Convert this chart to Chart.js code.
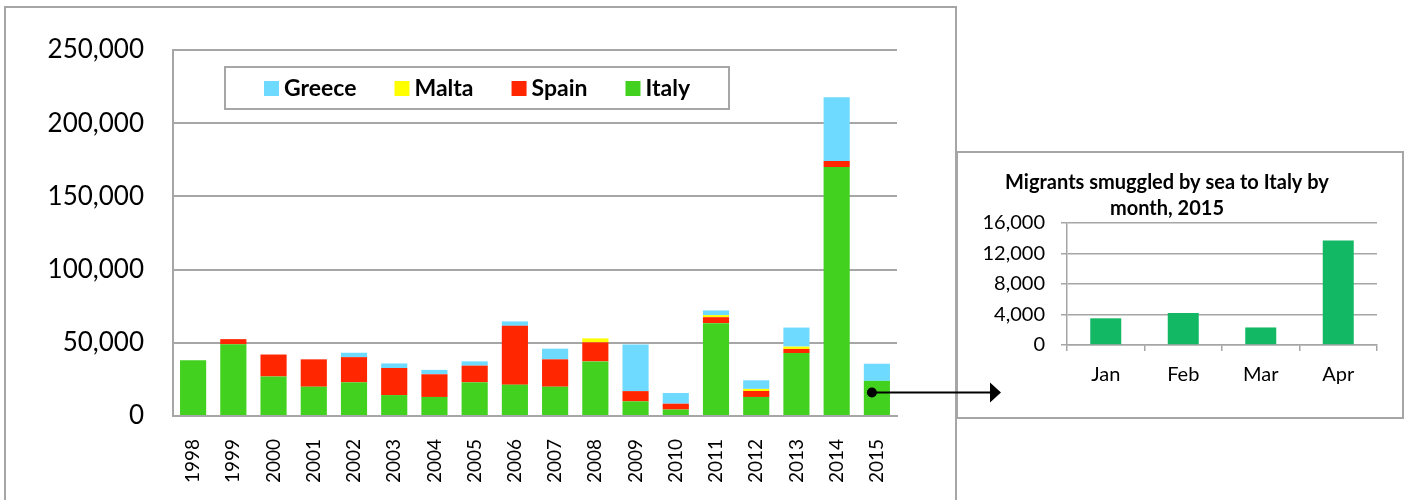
<!DOCTYPE html>
<html>
<head>
<meta charset="utf-8">
<script src="https://cdn.jsdelivr.net/npm/chart.js"></script>
<style>
  body { margin: 0; background: #fff; }
  #wrap { position: relative; width: 1413px; height: 500px; overflow: hidden; }
  .box { position: absolute; border: 2px solid #a6a6a6; box-sizing: border-box; }
  canvas { position: absolute; }
</style>
</head>
<body>
<div id="wrap">
  <div class="box" style="left:4px; top:6px; width:953px; height:520px;"></div>
  <div class="box" style="left:956px; top:151px; width:448px; height:268px; background:#fff;"></div>
  <canvas id="main" width="1413" height="500" style="left:0; top:0;"></canvas>
  <canvas id="inset" width="446" height="266" style="left:957px; top:152px;"></canvas>
</div>
<script>
// data
const years = ['1998', '1999', '2000', '2001', '2002', '2003', '2004', '2005', '2006',
               '2007', '2008', '2009', '2010', '2011', '2012', '2013', '2014', '2015'];
const italy  = [38000, 49000, 27000, 20000, 23000, 14300, 13000, 23000, 21400,
                20000, 37300, 10000, 4400, 63400, 13000, 43000, 170100, 24000];
const spain  = [0, 3500, 15000, 18700, 17200, 18500, 15500, 11400, 40200,
                18700, 13000, 7000, 4000, 4100, 4100, 2800, 4100, 0];
const malta  = [0, 0, 0, 0, 0, 0, 0, 0, 0,
                0, 2700, 0, 0, 1400, 1400, 1600, 0, 0];
const greece = [0, 0, 0, 0, 3000, 3100, 3000, 2900, 3000,
                7300, 0, 31900, 7300, 3200, 5900, 13000, 43500, 11700];

const months = ['Jan', 'Feb', 'Mar', 'Apr'];
const italy2015 = [3500, 4200, 2300, 13700];

const grey = '#a6a6a6';
const fmt = v => Number(v).toLocaleString('en-US');

// legend box drawn inside the plot area
const boxLegend = {
    id: 'boxLegend',
    afterDraw(chart) {
        const ctx = chart.ctx;
        ctx.save();
        ctx.strokeStyle = grey;
        ctx.lineWidth = 2;
        ctx.fillStyle = '#fff';
        ctx.fillRect(225, 67, 504, 42);
        ctx.strokeRect(225, 67, 504, 42);
        ctx.font = 'bold 23px Lato';
        ctx.textBaseline = 'middle';
        let x = 264;
        chart.data.datasets.slice().reverse().forEach(ds => {
            ctx.fillStyle = ds.backgroundColor;
            ctx.fillRect(x, 81, 15, 15);
            ctx.fillStyle = '#000';
            ctx.fillText(ds.label, x + 20, 89);
            x += 20 + ctx.measureText(ds.label).width + 38;
        });
        ctx.restore();
    }
};

// dot + arrow from the 2015 bar to the inset
const arrow = {
    id: 'arrow',
    afterDatasetsDraw(chart) {
        const ctx = chart.ctx;
        const xs = chart.scales.x, ys = chart.scales.y;
        const x0 = xs.getPixelForValue(years.length - 1) - 5;
        const y0 = ys.getPixelForValue(16000);
        const tip = 1001;
        ctx.save();
        ctx.fillStyle = '#000';
        ctx.strokeStyle = '#000';
        ctx.lineWidth = 2;
        ctx.beginPath();
        ctx.arc(x0, y0, 5, 0, Math.PI * 2);
        ctx.fill();
        ctx.beginPath();
        ctx.moveTo(x0, y0);
        ctx.lineTo(tip - 10, y0);
        ctx.stroke();
        ctx.beginPath();
        ctx.moveTo(tip, y0);
        ctx.lineTo(tip - 11, y0 - 10);
        ctx.lineTo(tip - 11, y0 + 10);
        ctx.closePath();
        ctx.fill();
        ctx.restore();
    }
};

Chart.defaults.font.family = 'Lato';
Chart.defaults.color = '#000';

new Chart(document.getElementById('main'), {
    type: 'bar',
    data: {
        labels: years,
        datasets: [
            { label: 'Italy', data: italy, backgroundColor: '#42d11f' },
            { label: 'Spain', data: spain, backgroundColor: '#ff2600' },
            { label: 'Malta', data: malta, backgroundColor: '#ffff00' },
            { label: 'Greece', data: greece, backgroundColor: '#6fdaff' }
        ]
    },
    options: {
        responsive: false,
        animation: false,
        datasets: { bar: { barPercentage: 0.65, categoryPercentage: 1 } },
        layout: { padding: { left: 0, top: 50, right: 516, bottom: 0 } },
        plugins: { legend: { display: false }, tooltip: { enabled: false } },
        scales: {
            x: {
                stacked: true,
                grid: { display: false },
                border: { display: true, color: grey, width: 2 },
                ticks: { font: { size: 19 }, minRotation: 90, maxRotation: 90, padding: 15 },
                afterFit: s => { s.height = 84; }
            },
            y: {
                stacked: true,
                min: 0, max: 250000,
                grid: { color: grey, lineWidth: 2, drawTicks: false },
                border: { display: true, color: grey, width: 2 },
                ticks: { stepSize: 50000, font: { size: 26 }, padding: 29, callback: fmt },
                afterFit: s => { s.width = 173; }
            }
        }
    },
    plugins: [boxLegend, arrow]
});

new Chart(document.getElementById('inset'), {
    type: 'bar',
    data: {
        labels: months,
        datasets: [{ label: 'Italy 2015', data: italy2015, backgroundColor: '#12b864' }]
    },
    options: {
        responsive: false,
        animation: false,
        datasets: { bar: { barPercentage: 0.4, categoryPercentage: 1 } },
        layout: { padding: { left: 0, top: 0, right: 26, bottom: 0 } },
        plugins: {
            legend: { display: false },
            tooltip: { enabled: false },
            title: {
                display: true,
                text: ['Migrants smuggled by sea to Italy by', 'month, 2015'],
                font: { size: 20, weight: 'bold', lineHeight: 1.3 },
                color: '#000',
                padding: { top: 18, bottom: 1 }
            }
        },
        scales: {
            x: {
                grid: { drawOnChartArea: false, drawTicks: true, tickLength: 6, offset: true, color: grey, lineWidth: 1.5 },
                border: { display: true, color: grey, width: 1.5 },
                ticks: { font: { size: 20 }, padding: 12 },
                afterFit: s => { s.height = 73; }
            },
            y: {
                min: 0, max: 16000,
                grid: { color: grey, lineWidth: 1.5, tickLength: 6 },
                border: { display: true, color: grey, width: 1.5 },
                ticks: { stepSize: 4000, font: { size: 20 }, padding: 16, callback: fmt },
                afterFit: s => { s.width = 110; }
            }
        }
    }
});
</script>
</body>
</html>
